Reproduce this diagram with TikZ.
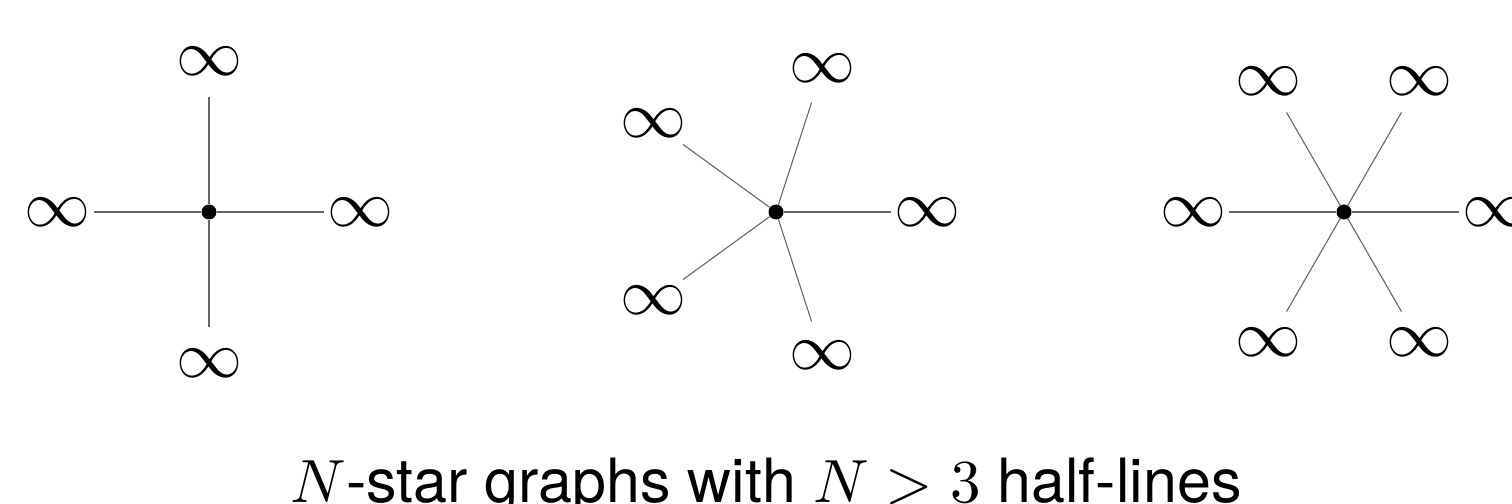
\documentclass[tikz,border=0pt]{standalone}
\usepackage{fontspec}
\newfontfamily\heros{TeX Gyre Heros}
\usetikzlibrary{calc}
\begin{document}
\begin{tikzpicture}[x=0.5pt,y=0.5pt,
  leg/.style={draw=black!60, line width=0.55pt},
  hub/.style={circle, fill=black, inner sep=0pt, minimum size=7.5pt},
  inf/.style={inner sep=0pt, scale=3.3},
  ttl/.style={inner sep=0pt, anchor=base, scale=3.05, font=\heros}]
\useasboundingbox (0,0) rectangle (1512,504);
% star with 4 half-lines
\node[hub] (a) at (209,292) {};
\foreach \ang [count=\i] in {0,90,180,270} {
  \coordinate (a\i) at ($(a.center)+(\ang:115)$);
  \node[inf] (la\i) at ($(a.center)+(\ang:151)$) {$\infty$};
  \draw[leg] (a) -- (a\i);
}
% star with 5 half-lines
\node[hub] (b) at (776,292) {};
\foreach \ang [count=\i] in {0,72,144,216,288} {
  \coordinate (b\i) at ($(b.center)+(\ang:115)$);
  \node[inf] (lb\i) at ($(b.center)+(\ang:151)$) {$\infty$};
  \draw[leg] (b) -- (b\i);
}
% star with 6 half-lines
\node[hub] (c) at (1344,292) {};
\foreach \ang [count=\i] in {0,60,120,180,240,300} {
  \coordinate (c\i) at ($(c.center)+(\ang:115)$);
  \node[inf] (lc\i) at ($(c.center)+(\ang:151)$) {$\infty$};
  \draw[leg] (c) -- (c\i);
}
% caption
\node[ttl] (t) at (766,2) {$N$-star graphs with $N>3$ half-lines};
\end{tikzpicture}
\end{document}
